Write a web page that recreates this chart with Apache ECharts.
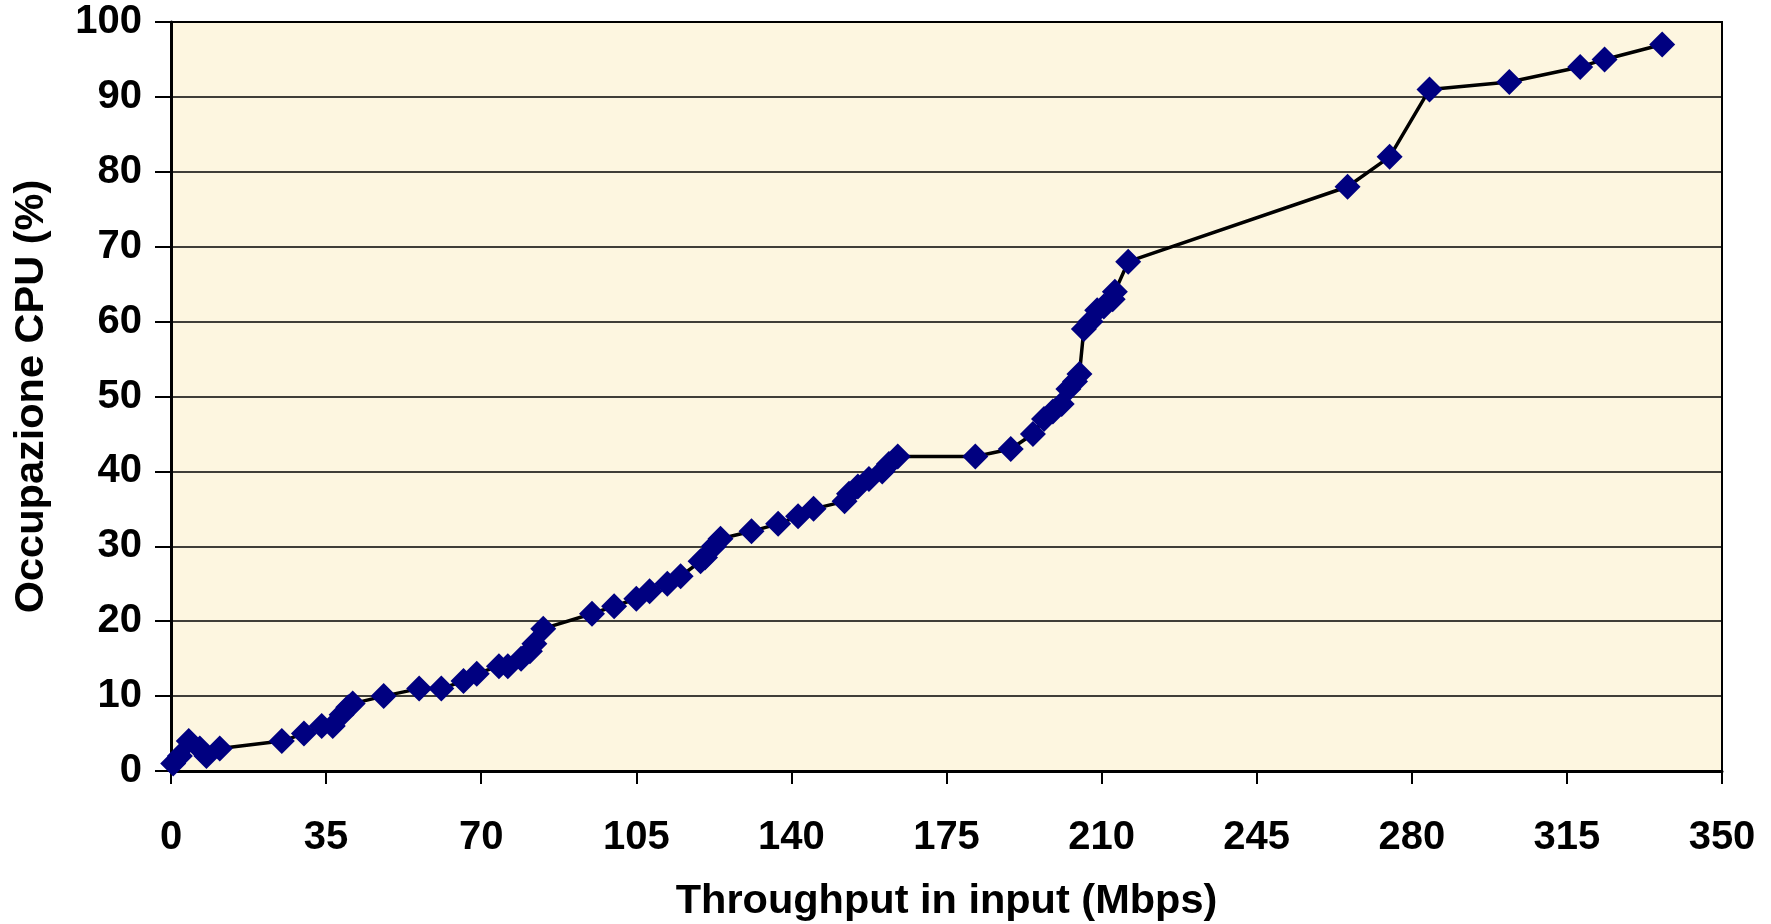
<!DOCTYPE html>
<html>
<head>
<meta charset="utf-8">
<script src="https://cdn.jsdelivr.net/npm/echarts@6/dist/echarts.min.js"></script>
<style>
html,body{margin:0;padding:0;background:#fff;}
#chart{width:1771px;height:924px;}
</style>
</head>
<body>
<div id="chart"></div>
<script>
// Throughput in input (Mbps)
const throughput = [0.5, 2, 4, 6.5, 8, 11, 25, 30, 34, 36.5, 38.5, 40, 41, 48, 56, 61, 66, 69, 74, 76, 79, 81, 82, 84, 95, 100, 105, 108, 112, 115, 119.5, 120.5, 122.5, 124, 131, 137, 141.5, 145, 152, 153, 155, 157.5, 160.5, 162, 164, 181.5, 189.5, 194.5, 197, 199, 201, 202.5, 204, 205, 206, 207.5, 209, 210.5, 212.5, 213, 216, 265.5, 275, 284, 302, 318, 323.5, 336.5];
// Occupazione CPU (%)
const cpu = [1, 2, 4, 3, 2, 3, 4, 5, 6, 6, 7.5, 8.5, 9, 10, 11, 11, 12, 13, 14, 14, 15, 16, 17, 19, 21, 22, 23, 24, 25, 26, 28, 28.5, 30, 31, 32, 33, 34, 35, 36, 37, 38, 39, 40, 41, 42, 42, 43, 45, 47, 48, 49, 51, 52, 53, 59, 60, 61.5, 62, 63, 64, 68, 78, 82, 91, 92, 94, 95, 97];

const xTitle = 'Throughput in input (Mbps)';
const yTitle = 'Occupazione CPU (%)';

const points = throughput.map((x, i) => [x, cpu[i]]);
const font = "'Liberation Sans', Arial, sans-serif";

const chart = echarts.init(document.getElementById('chart'));
chart.setOption({
  animation: false,
  backgroundColor: '#ffffff',
  grid: {
    left: 171, top: 22, width: 1551, height: 749,
    containLabel: false, outerBoundsMode: 'none',
    show: true, backgroundColor: '#FDF6E0', borderColor: '#000', borderWidth: 2
  },
  xAxis: {
    type: 'value', min: 0, max: 350, interval: 35,
    name: xTitle, nameLocation: 'middle', nameGap: 110,
    nameTextStyle: { fontFamily: font, fontWeight: 'bold', fontSize: 41.5, color: '#000' },
    axisLine: { show: true, lineStyle: { color: '#000', width: 3 } },
    axisTick: { show: true, length: 13, lineStyle: { color: '#000', width: 2 } },
    axisLabel: { margin: 47, fontFamily: font, fontWeight: 'bold', fontSize: 40, color: '#000' },
    splitLine: { show: false }
  },
  yAxis: {
    type: 'value', min: 0, max: 100, interval: 10,
    name: yTitle, nameLocation: 'middle', nameGap: 118, nameRotate: 90,
    nameTextStyle: { fontFamily: font, fontWeight: 'bold', fontSize: 41.5, color: '#000' },
    axisLine: { show: true, lineStyle: { color: '#000', width: 3 } },
    axisTick: { show: true, length: 16, lineStyle: { color: '#000', width: 2 } },
    axisLabel: { margin: 29, fontFamily: font, fontWeight: 'bold', fontSize: 40, color: '#000' },
    splitLine: { show: true, lineStyle: { color: '#000', width: 1.5 } }
  },
  series: [{
    type: 'line',
    data: points,
    symbol: 'diamond',
    symbolSize: [26, 26],
    showAllSymbol: true,
    lineStyle: { color: '#000', width: 3.5 },
    itemStyle: { color: '#000080', borderWidth: 0 }
  }]
});
</script>
</body>
</html>
